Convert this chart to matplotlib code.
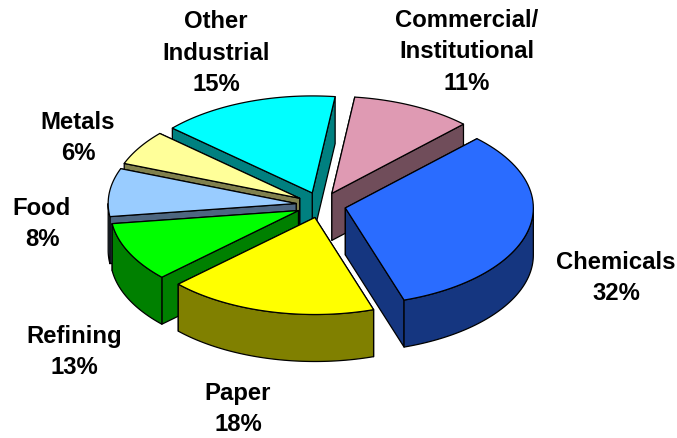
import numpy as np
from matplotlib import pyplot as plt

plt.rcParams['font.family'] = ['Liberation Sans', 'DejaVu Sans']

# slice sizes as read from the drawn angles, the printed labels don't quite add up
names = ["Commercial/\nInstitutional", "Chemicals", "Paper", "Refining", "Food", "Metals", "Other\nIndustrial"]
shares = [10.4, 32.6, 18.0, 9.9, 8.0, 5.8, 15.3]
printed = ["11%", "32%", "18%", "13%", "8%", "6%", "15%"]
colors = ["#DF9AB3", "#2A6CFF", "#FFFF00", "#00FF00", "#99CCFF", "#FFFF99", "#00FFFF"]

# where the labels sit, in pixels
label_x = [467, 616, 238, 74, 42, 78, 216]
label_y = [52, 278, 409, 352, 224, 138, 53]

# pie geometry in pixels
cx, cy = 321, 206
rx, ry = 188, 97
depth = 47
explode = 25
first_angle = 7
paint_order = [6, 0, 5, 4, 3, 1, 2]


def point(a, ox, oy):
    # angle is clockwise from the top, like a pie in a spreadsheet
    r = np.radians(a)
    return ox + rx * np.sin(r), oy - ry * np.cos(r)


def darker(c):
    rgb = [int(c[i:i + 2], 16) / 255 for i in (1, 3, 5)]
    return [v * 0.5 for v in rgb]


def wedge(i, start, end):
    mid = np.radians((start + end) / 2)
    ox = cx + explode * np.sin(mid)
    oy = cy - explode * ry / rx * np.cos(mid)
    side = darker(colors[i])

    angles = np.linspace(start, end, 60)
    xs, ys = point(angles, ox, oy)

    faces = []
    for a in (start, end):
        tx, ty = point(a, ox, oy)
        faces.append(([ox, tx, tx, ox], [oy, ty, ty + depth, oy + depth]))

    # outer wall, only the part that faces the viewer
    lo, hi = max(start, 90), min(end, 270)
    if lo < hi:
        arc = np.linspace(lo, hi, 60)
        ax_, ay_ = point(arc, ox, oy)
        faces.append((np.r_[ax_, ax_[::-1]], np.r_[ay_, ay_[::-1] + depth]))

    faces.sort(key=lambda f: np.mean(f[1]))
    for fx, fy in faces:
        ax.fill(fx, fy, facecolor=side, edgecolor="black", linewidth=0.9, joinstyle="round")
    ax.fill(np.r_[ox, xs], np.r_[oy, ys], facecolor=colors[i], edgecolor="black", linewidth=0.9,
            joinstyle="round")


fig = plt.figure(figsize=(6.77, 4.39), dpi=100)
ax = fig.add_axes([0, 0, 1, 1])
ax.set_xlim(0, 677)
ax.set_ylim(439, 0)
ax.axis("off")

edges = first_angle + np.r_[0, np.cumsum(shares)] / sum(shares) * 360

for i in paint_order:
    wedge(i, edges[i], edges[i + 1])

for i in range(len(names)):
    ax.text(label_x[i], label_y[i], names[i] + "\n" + printed[i], ha="center", va="center",
            fontsize=17.2, fontweight="bold", linespacing=1.45, color="black")

plt.savefig("out.png", dpi=100)
